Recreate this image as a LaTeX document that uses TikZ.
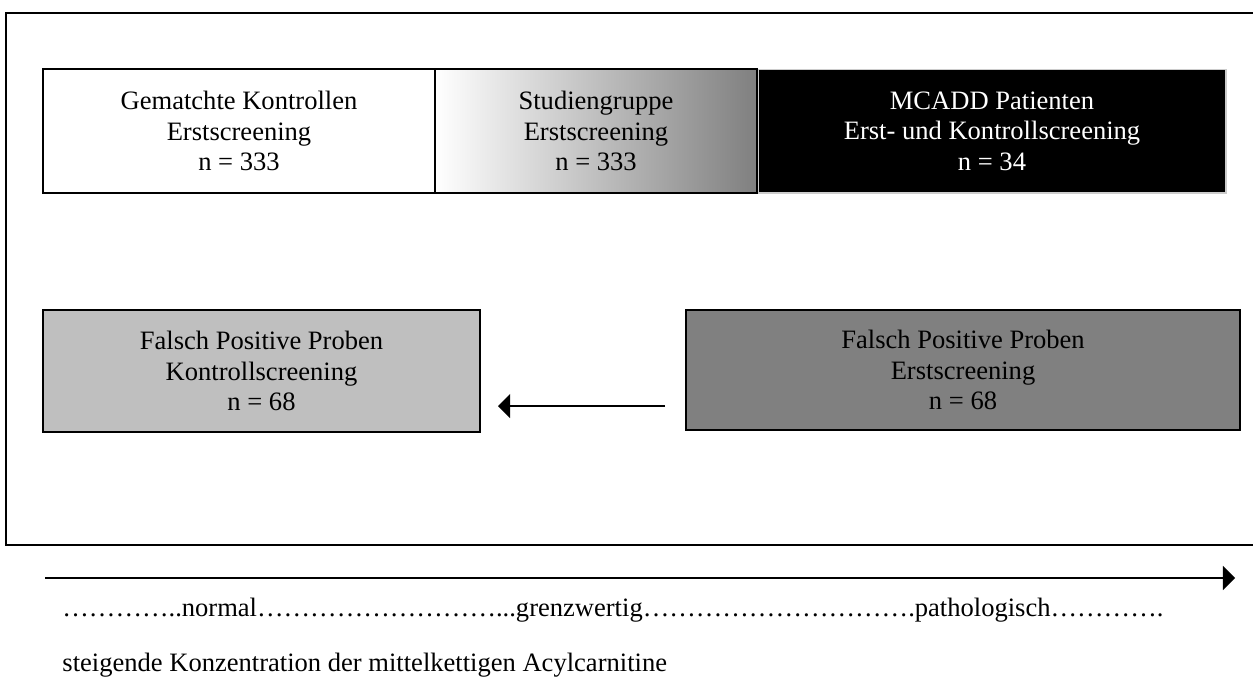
\documentclass[tikz,border=0pt]{standalone}
\usepackage{fontspec}
\setmainfont{Liberation Serif}
\usepackage{tikz}
\usetikzlibrary{arrows}

\tikzset{
  grp/.style={draw=black, line width=0.9pt, rectangle, align=center, inner sep=0pt},
  scale text/.style={anchor=west, inner sep=0pt},
}

\begin{document}
\begin{tikzpicture}[x=0.452pt, y=-0.452pt, font=\fontsize{12}{13.8}\selectfont]
        \useasboundingbox (0,0) rectangle (1253,680);
        \draw[line width=0.9pt] (1253,13) -| (6,545) -- (1253,545);
        \node[grp, minimum width=177.2pt, minimum height=56pt] (kontr) at (239,131) {Gematchte Kontrollen\\Erstscreening\\n = 333};
        \node[grp, left color=white, right color=black!50, minimum width=145.5pt, minimum height=56pt] (studie) at (596,131) {Studiengruppe\\Erstscreening\\n = 333};
        \node[grp, draw=black!20, line width=0.5pt, fill=black, text=white, minimum width=211.5pt, minimum height=56pt] (mcadd) at (992,131) {MCADD Patienten\\Erst- und Kontrollscreening\\n = 34};
        \node[grp, fill=black!25, minimum width=197.5pt, minimum height=55.1pt] (fpk) at (261.5,371) {Falsch Positive Proben\\Kontrollscreening\\n = 68};
        \node[grp, fill=black!50, minimum width=250.4pt, minimum height=54.2pt] (fpe) at (963,370) {Falsch Positive Proben\\Erstscreening\\n = 68};
        \coordinate (pfa) at (665,406);
        \coordinate (pfb) at (498,406);
        \draw[line width=0.9pt, -triangle 90] (pfa) -- (pfb);
        \coordinate (achsea) at (45,578);
        \coordinate (achseb) at (1235,578);
        \draw[line width=0.9pt, -triangle 90] (achsea) -- (achseb);
        \node[scale text] (stufen) at (62,610) {…………..normal………………………...grenzwertig………………………….pathologisch………….};
        \node[scale text] (konz) at (62,665) {steigende Konzentration der mittelkettigen Acylcarnitine};
\end{tikzpicture}
\end{document}
